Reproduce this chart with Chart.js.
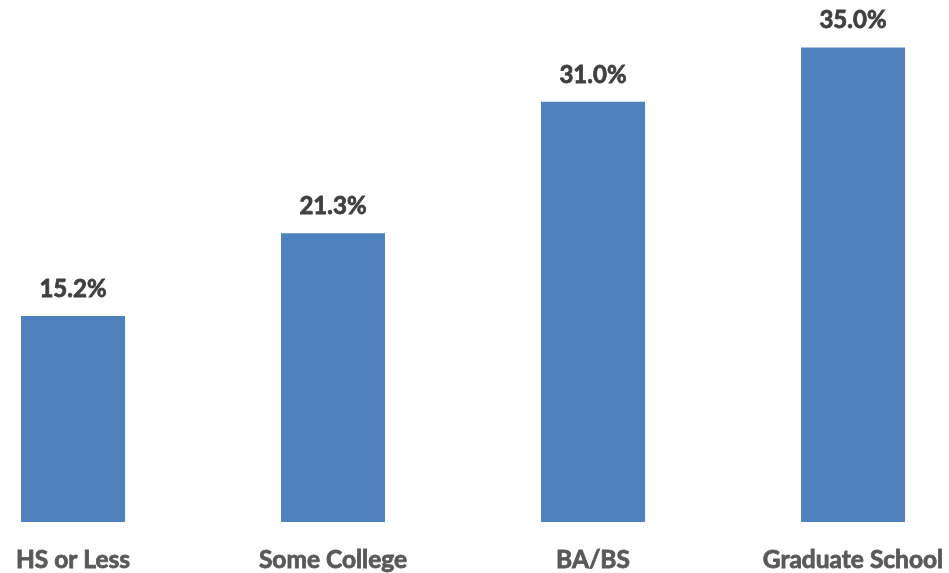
<!DOCTYPE html>
<html>
<head>
<meta charset="utf-8">
<script src="https://cdn.jsdelivr.net/npm/chart.js@4/dist/chart.umd.min.js"></script>
<style>
    html, body { margin: 0; padding: 0; background: #fff; overflow: hidden; }
    body { width: 949px; height: 573px; position: relative; }
    /* plot spans a bit past the window so the first bar sits near the left edge */
    #wrap { position: absolute; left: -57px; top: 0; width: 1040px; height: 573px; }
</style>
</head>
<body>
<div id="wrap"><canvas id="chart"></canvas></div>
<script>
const categories = ['HS or Less', 'Some College', 'BA/BS', 'Graduate School'];
const shares = [15.2, 21.3, 31.0, 35.0];

const FONT = 'Lato, "Open Sans", sans-serif';

const valueLabels = {
    id: 'valueLabels',
    afterDatasetsDraw(chart) {
        const { ctx } = chart;
        const meta = chart.getDatasetMeta(0);
        ctx.save();
        ctx.font = `bold 24px ${FONT}`;
        ctx.fillStyle = '#404040';
        ctx.strokeStyle = '#404040';
        ctx.lineWidth = 0.8;
        ctx.textAlign = 'center';
        ctx.textBaseline = 'alphabetic';
        meta.data.forEach((bar, i) => {
            const txt = shares[i].toFixed(1) + '%';
            ctx.fillText(txt, bar.x, bar.y - 19);
            ctx.strokeText(txt, bar.x, bar.y - 19);
        });
        ctx.restore();
    }
};

new Chart(document.getElementById('chart'), {
    type: 'bar',
    data: {
        labels: categories,
        datasets: [{
            data: shares,
            backgroundColor: '#4F81BD',
            categoryPercentage: 0.8,
            barPercentage: 0.5,
        }],
    },
    options: {
        responsive: true,
        maintainAspectRatio: false,
        animation: false,
        layout: { padding: 0 },
        plugins: {
            legend: { display: false },
            tooltip: { enabled: false },
        },
        scales: {
            x: {
                grid: { display: false },
                border: { display: false },
                ticks: {
                    color: '#595959',
                    textStrokeColor: '#595959',
                    textStrokeWidth: 0.8,
                    font: { family: FONT, size: 24.5, weight: 'bold' },
                    padding: 15,
                    maxRotation: 0,
                },
                afterFit(scale) { scale.height = 51; },
            },
            y: {
                display: false,
                min: 0,
                max: 38.5,
            },
        },
    },
    plugins: [valueLabels],
});
</script>
</body>
</html>
